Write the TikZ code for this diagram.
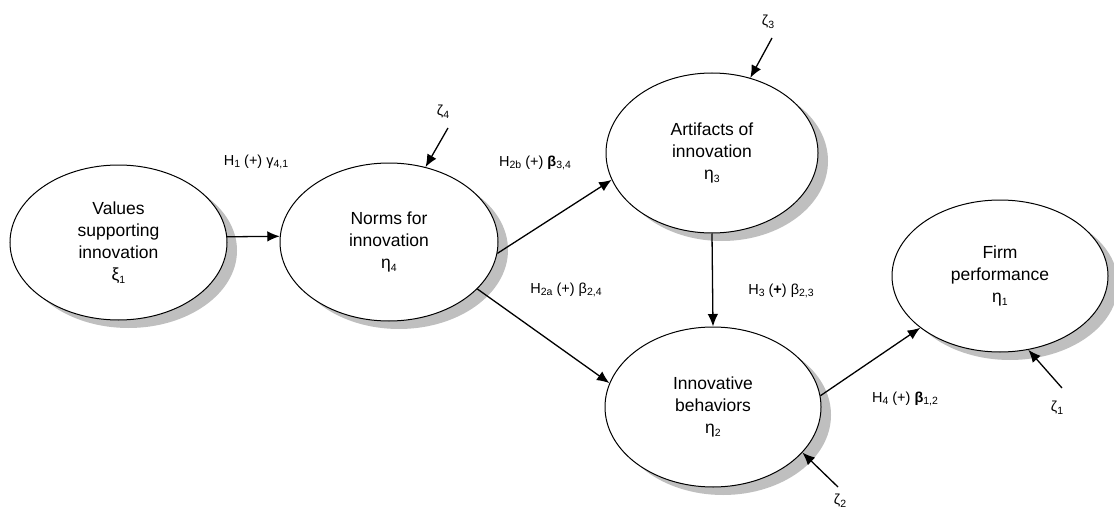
\documentclass[tikz,border=0pt]{standalone}
\usepackage{fontspec}
\setmainfont{Liberation Sans}
\usetikzlibrary{shapes.geometric,arrows.meta,shadows}
% small lowered index for path labels
\newcommand\lowix[1]{\raisebox{-0.35ex}{\fontsize{10.5}{10.5}\selectfont #1}}
\begin{document}
\begin{tikzpicture}[x=1pt,y=-1pt,
  construct/.style={ellipse,draw=black,line width=1pt,fill=white,inner sep=0pt,
    align=center,font=\fontsize{17.5}{22}\selectfont,
    drop shadow={shadow xshift=10pt,shadow yshift=-8pt,fill=black!25,opacity=1}},
  path/.style={line width=1.3pt,-{Latex[length=12.5pt,width=10.5pt]}},
  coef/.style={font=\fontsize{14.5}{17}\selectfont,inner sep=0pt},
  dist/.style={font=\fontsize{14.5}{17}\selectfont,inner sep=0pt}]
\useasboundingbox (0,0) rectangle (1114,511);

% latent constructs
\node[construct,minimum width=217pt,minimum height=155pt] (val) at (118.5,242.5)
  {Values\\supporting\\innovation\\ξ\lowix{1}};
\node[construct,minimum width=218pt,minimum height=158pt] (nor) at (389,242)
  {Norms for\\innovation\\η\lowix{4}};
\node[construct,minimum width=212pt,minimum height=160pt] (art) at (712,153)
  {Artifacts of\\innovation\\η\lowix{3}};
\node[construct,minimum width=216pt,minimum height=160pt] (inn) at (713,407)
  {Innovative\\behaviors\\η\lowix{2}};
\node[construct,minimum width=216pt,minimum height=152pt] (firm) at (1000,276)
  {Firm\\performance\\η\lowix{1}};

% structural paths
\draw[path] (val.3) -- (nor.177);
\draw[path] (nor.-6) -- (art.195);
\draw[path] (nor.-28) -- (inn.167);
\draw[path] (art.south) -- (inn.north);
\draw[path] (inn.6) -- (firm.213);

% path coefficients
\node[coef] (h1) at (256,162) {H\lowix{1} (+) γ\lowix{4,1}};
\node[coef] (h2b) at (535,163) {H\lowix{2b} (+) \textbf{β}\lowix{3,4}};
\node[coef] (h2a) at (566,290) {H\lowix{2a} (+) β\lowix{2,4}};
\node[coef] (h3) at (781,291) {H\lowix{3} (\textbf{+}) β\lowix{2,3}};
\node[coef] (h4) at (905,399) {H\lowix{4} (+) \textbf{β}\lowix{1,2}};

% disturbances
\node[dist] (z4) at (443,112) {ζ\lowix{4}};
\node[dist] (z3) at (768,22) {ζ\lowix{3}};
\node[dist] (z2) at (840,501) {ζ\lowix{2}};
\node[dist] (z1) at (1057,408) {ζ\lowix{1}};
\coordinate (z4s) at (448,128);
\coordinate (z3s) at (772,38);
\coordinate (z2s) at (838,487);
\coordinate (z1s) at (1062,388);
\draw[path] (z4s) -- (nor.64);
\draw[path] (z3s) -- (art.63);
\draw[path] (z2s) -- (inn.-27);
\draw[path] (z1s) -- (firm.-69);
\end{tikzpicture}
\end{document}
